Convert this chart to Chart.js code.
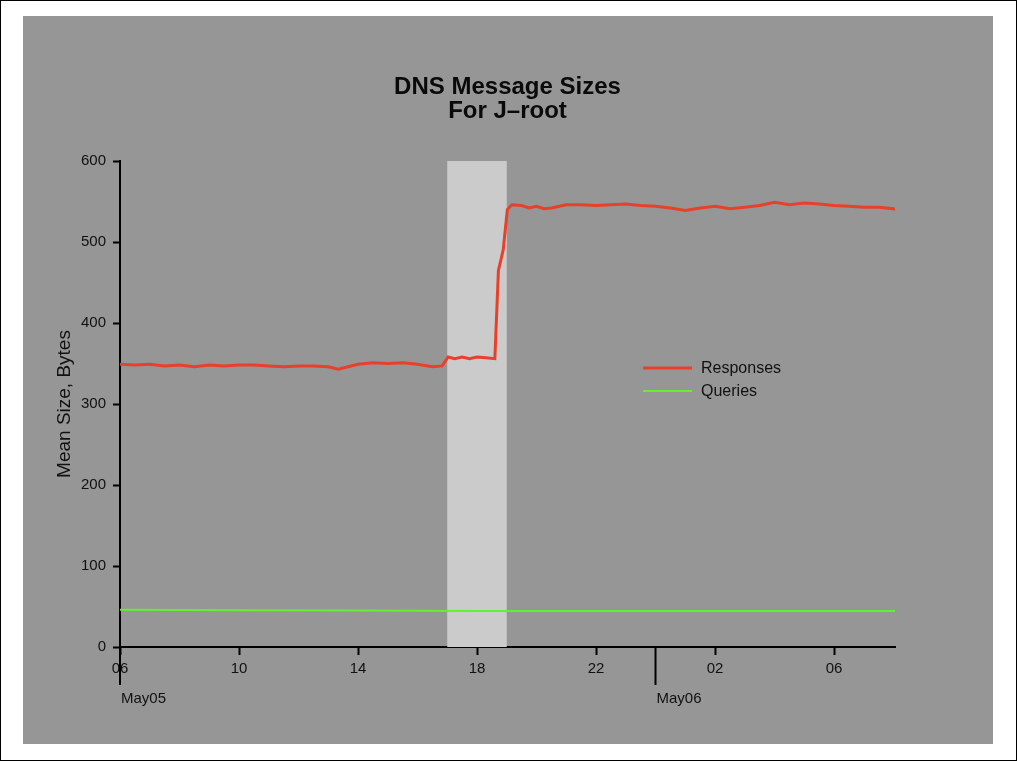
<!DOCTYPE html>
<html>
<head>
<meta charset="utf-8">
<script src="https://cdn.jsdelivr.net/npm/chart.js@4"></script>
<style>
  body { margin: 0; background: #fff; }
  #frame { position: absolute; left: 0; top: 0; width: 1015px; height: 759px; border: 1px solid #000; background: #fff; }
  #panel { position: absolute; left: 23px; top: 16px; width: 970px; height: 728px; background: #969696; }
</style>
</head>
<body>
<div id="frame"></div>
<div id="panel"><canvas id="myChart" width="970" height="728"></canvas></div>
<script>
// hours since 06:00 May05
const hours = [0, 0.5, 1, 1.5, 2, 2.5, 3, 3.5, 4, 4.5, 5, 5.5, 6, 6.5, 7, 7.33, 7.67,
  8, 8.5, 9, 9.5, 10, 10.5, 10.83, 11.03, 11.25, 11.5, 11.75, 12, 12.3, 12.6, 12.72, 12.88, 13.02, 13.17,
  13.5, 13.75, 14, 14.25, 14.5, 15, 15.5, 16, 16.5, 17, 17.5, 18, 18.5, 19, 19.5, 20, 20.5, 21, 21.5,
  22, 22.5, 23, 23.5, 24, 24.5, 25, 25.5, 26, 26.05];
const responses = [349, 348, 349, 347, 348, 346, 348, 347, 348, 348, 347, 346, 347, 347, 346, 343, 346,
  349, 351, 350, 351, 349, 346, 347, 358, 356, 358, 356, 358, 357, 356, 465, 490, 540, 546,
  545, 542, 544, 541, 542, 546, 546, 545, 546, 547, 545, 544, 542, 539, 542, 544, 541, 543, 545,
  549, 546, 548, 547, 545, 544, 543, 543, 541, 540];
const queryHours = [0, 4, 8, 12, 16, 20, 24, 26.05];
const queries = [46, 45.5, 45, 44.5, 44.5, 44.5, 44.5, 44.5];

const xTickHours = [0, 4, 8, 12, 16, 20, 24];
const dateHours = [0, 18];
const dateLabels = ["May05", "May06"];
const shadeRange = [11, 13]; // 17:00 - 19:00

Chart.defaults.font.family = "'Liberation Sans', Arial, sans-serif";
Chart.defaults.color = "#111";

const decor = {
  id: "decor",
  beforeDatasetsDraw(chart) {
    const ctx = chart.ctx, x = chart.scales.x, a = chart.chartArea;
    ctx.save();
    ctx.fillStyle = "#cbcbcb";
    const x0 = x.getPixelForValue(shadeRange[0]);
    const x1 = x.getPixelForValue(shadeRange[1]);
    ctx.fillRect(x0, a.top, x1 - x0, a.bottom - a.top);
    ctx.restore();
  },
  afterDraw(chart) {
    const ctx = chart.ctx, x = chart.scales.x, a = chart.chartArea;
    ctx.save();
    // title
    ctx.fillStyle = "#0a0a0a";
    ctx.textAlign = "center";
    ctx.textBaseline = "middle";
    ctx.font = "bold 24px 'Liberation Sans', Arial, sans-serif";
    const cx = (a.left + a.right) / 2;
    ctx.fillText("DNS Message Sizes", cx, 71);
    ctx.fillText("For J\u2013root", cx, 95);
    // y title
    ctx.fillStyle = "#111";
    ctx.font = "19px 'Liberation Sans', Arial, sans-serif";
    ctx.translate(42, (a.top + a.bottom) / 2);
    ctx.rotate(-Math.PI / 2);
    ctx.fillText("Mean Size, Bytes", 0, 0);
    ctx.setTransform(1, 0, 0, 1, 0, 0);
    // day marks
    ctx.strokeStyle = "#000";
    ctx.lineWidth = 2;
    ctx.textAlign = "left";
    ctx.font = "15px 'Liberation Sans', Arial, sans-serif";
    dateHours.forEach((h, i) => {
      const px = x.getPixelForValue(h);
      ctx.beginPath();
      ctx.moveTo(px, a.bottom);
      ctx.lineTo(px, a.bottom + 38);
      ctx.stroke();
      ctx.fillText(dateLabels[i], px + 1, a.bottom + 52);
    });
    // legend
    ctx.font = "16px 'Liberation Sans', Arial, sans-serif";
    chart.data.datasets.forEach((ds, i) => {
      const ly = 352 + i * 23;
      ctx.strokeStyle = ds.borderColor;
      ctx.lineWidth = ds.borderWidth;
      ctx.beginPath();
      ctx.moveTo(620, ly);
      ctx.lineTo(669, ly);
      ctx.stroke();
      ctx.fillStyle = "#111";
      ctx.fillText(ds.label, 678, ly + 1);
    });
    ctx.restore();
  }
};

new Chart(document.getElementById("myChart"), {
  type: "line",
  data: {
    datasets: [
      {
        label: "Responses",
        data: hours.map((h, i) => ({ x: h, y: responses[i] })),
        borderColor: "#e8402b",
        borderWidth: 3,
        pointRadius: 0,
        tension: 0
      },
      {
        label: "Queries",
        data: queryHours.map((h, i) => ({ x: h, y: queries[i] })),
        borderColor: "#66ee33",
        borderWidth: 2,
        pointRadius: 0,
        tension: 0
      }
    ]
  },
  options: {
    responsive: false,
    animation: false,
    layout: { padding: { left: 0, right: 98, top: 145, bottom: 0 } },
    plugins: { legend: { display: false }, title: { display: false }, tooltip: { enabled: false } },
    scales: {
      x: {
        type: "linear",
        min: 0,
        max: 26.05,
        afterBuildTicks: (s) => { s.ticks = xTickHours.map((v) => ({ value: v })); },
        afterFit: (s) => { s.height = 97; },
        border: { color: "#000", width: 2 },
        grid: { drawOnChartArea: false, tickLength: 8, tickColor: "#000", tickWidth: 2 },
        ticks: {
          padding: 5,
          maxRotation: 0,
          font: { size: 15 },
          color: "#111",
          callback: (v) => String((6 + v) % 24).padStart(2, "0")
        }
      },
      y: {
        min: 0,
        max: 600,
        afterFit: (s) => { s.width = 97; },
        border: { color: "#000", width: 2 },
        grid: { drawOnChartArea: false, tickLength: 7, tickColor: "#000", tickWidth: 2 },
        ticks: { stepSize: 100, padding: 7, font: { size: 15 }, color: "#111" }
      }
    }
  },
  plugins: [decor]
});
</script>
</body>
</html>
